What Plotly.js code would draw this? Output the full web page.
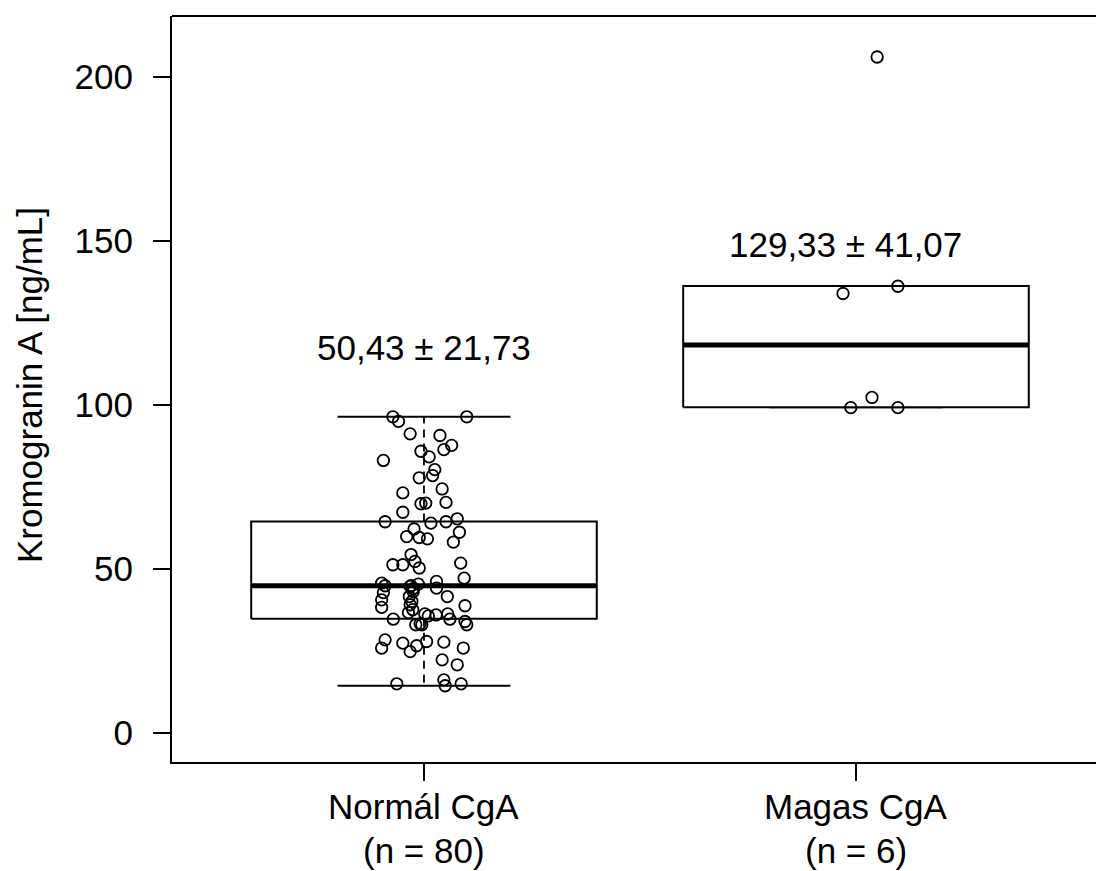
<!DOCTYPE html>
<html>
<head>
<meta charset="utf-8">
<script src="https://cdn.plot.ly/plotly-3.0.1.min.js"></script>
<style>html,body{margin:0;padding:0;background:#fff;}#chart{width:1096px;height:871px;}</style>
</head>
<body>
<div id="chart"></div>
<script>
// ---- data ----
const categories = ['Normál CgA', 'Magas CgA'];
const groupSizes = ['(n = 80)', '(n = 6)'];
const meanSdLabels = ['50,43 ± 21,73', '129,33 ± 41,07'];

// box statistics (Tukey five-number summary)
const q1 = [34.8, 99.3];
const medians = [44.9, 118.3];
const q3 = [64.5, 136.3];
const whiskerLow = [14.4, 99.3];
const whiskerHigh = [96.4, 136.3];

// individual observations, group 1 (Normál CgA)
const normalValues = [
  96.4, 95.0, 96.4, 91.2, 90.7, 87.7, 86.4, 85.9, 84.2, 83.1,
  80.3, 78.5, 77.8, 74.4, 73.2, 69.9, 70.1, 70.3, 67.3, 64.4,
  64.0, 64.4, 65.3, 61.2, 62.2, 59.9, 59.6, 59.2, 58.2, 54.4,
  51.3, 51.3, 52.3, 50.3, 51.8, 47.2, 46.2, 44.2, 45.7, 44.9,
  42.8, 40.6, 38.3, 45.4, 44.7, 43.1, 41.6, 40.1, 39.1, 37.6,
  36.7, 41.6, 38.8, 34.7, 36.3, 35.7, 36.0, 36.3, 34.7, 34.0,
  33.0, 33.0, 33.3, 33.0, 28.4, 25.9, 27.4, 24.8, 26.6, 27.9,
  27.7, 25.9, 22.3, 20.8, 15.0, 16.2, 14.4, 15.0, 44.0, 44.9
];
// horizontal jitter of each observation (category units)
const normalJitter = [
  -0.072, -0.059, 0.099, -0.032, 0.037, 0.064, 0.046, -0.007, 0.012, -0.094,
  0.025, 0.020, -0.011, 0.042, -0.049, -0.007, 0.004, 0.051, -0.049, -0.090,
  0.016, 0.051, 0.077, 0.082, -0.023, -0.040, -0.011, 0.008, 0.068, -0.030,
  -0.072, -0.049, -0.021, -0.011, 0.085, 0.093, 0.029, 0.029, -0.098, -0.090,
  -0.094, -0.098, -0.098, -0.013, -0.032, -0.025, -0.034, -0.028, -0.032, -0.026,
  -0.036, 0.054, 0.095, -0.071, 0.002, 0.010, 0.028, 0.055, 0.060, 0.095,
  0.099, -0.019, -0.009, -0.005, -0.090, -0.098, -0.049, -0.032, -0.017, 0.006,
  0.046, 0.091, 0.042, 0.077, -0.063, 0.046, 0.049, 0.086, -0.025, -0.030
];
// group 2 (Magas CgA)
const highValues = [134.0, 136.2, 99.2, 102.3, 99.2, 206.1];
const highJitter = [-0.030, 0.097, -0.012, 0.037, 0.097, 0.049];

// ---- style ----
const FONT = '"Liberation Sans", Arial, Helvetica, sans-serif';
const FS = 35;
const BOXHALF = 0.4, STAPLEHALF = 0.2;
const LW = 2;

const traces = [];
const groupPos = [1, 2];
const allValues = [normalValues, highValues];
const allJitter = [normalJitter, highJitter];

groupPos.forEach((c, i) => {
  // dashed whiskers
  traces.push({x: [c, c, null, c, c], y: [q3[i], whiskerHigh[i], null, q1[i], whiskerLow[i]],
    mode: 'lines', line: {color: '#000', width: 1.8, dash: '8px,6px'}, hoverinfo: 'skip', showlegend: false});
  // staples
  traces.push({x: [c - STAPLEHALF, c + STAPLEHALF, null, c - STAPLEHALF, c + STAPLEHALF],
    y: [whiskerHigh[i], whiskerHigh[i], null, whiskerLow[i], whiskerLow[i]],
    mode: 'lines', line: {color: '#000', width: LW}, hoverinfo: 'skip', showlegend: false});
  // box
  traces.push({x: [c - BOXHALF, c + BOXHALF, c + BOXHALF, c - BOXHALF, c - BOXHALF],
    y: [q1[i], q1[i], q3[i], q3[i], q1[i]], fill: 'toself', fillcolor: '#fff',
    mode: 'lines', line: {color: '#000', width: LW}, hoverinfo: 'skip', showlegend: false});
  // median
  traces.push({x: [c - BOXHALF, c + BOXHALF], y: [medians[i], medians[i]],
    mode: 'lines', line: {color: '#000', width: 5}, hoverinfo: 'skip', showlegend: false});
});

groupPos.forEach((c, i) => {
  traces.push({
    x: allJitter[i].map(j => c + j), y: allValues[i], mode: 'markers', showlegend: false,
    marker: {symbol: 'circle', size: 11.5, color: 'rgba(0,0,0,0)', line: {color: '#000', width: 1.8}},
    name: categories[i]
  });
});

const annotations = [];
groupPos.forEach((c, i) => {
  annotations.push({x: c, y: -0.0603, xref: 'x', yref: 'paper', text: categories[i], showarrow: false,
    xanchor: 'center', yanchor: 'middle', font: {family: FONT, size: FS, color: '#000'}});
  annotations.push({x: c, y: -0.118, xref: 'x', yref: 'paper', text: groupSizes[i], showarrow: false,
    xanchor: 'center', yanchor: 'middle', font: {family: FONT, size: FS, color: '#000'}});
});
annotations.push({x: 1, y: 117.4, xref: 'x', yref: 'y', text: meanSdLabels[0], showarrow: false,
  xanchor: 'center', yanchor: 'middle', font: {family: FONT, size: FS, color: '#000'}});
annotations.push({x: 1.975, y: 148.8, xref: 'x', yref: 'y', text: meanSdLabels[1], showarrow: false,
  xanchor: 'center', yanchor: 'middle', font: {family: FONT, size: FS, color: '#000'}});
annotations.push({x: -0.155, y: 0.505, xref: 'paper', yref: 'paper', text: 'Kromogranin A [ng/mL]',
  textangle: -90, showarrow: false, xanchor: 'center', yanchor: 'middle',
  font: {family: FONT, size: FS, color: '#000'}});

const layout = {
  width: 1096, height: 871,
  margin: {l: 172, r: 0, t: 16, b: 109, pad: 0},
  paper_bgcolor: '#fff', plot_bgcolor: '#fff',
  font: {family: FONT, size: FS, color: '#000'},
  showlegend: false,
  xaxis: {range: [0.4167, 2.5556], tickvals: groupPos, ticktext: ['', ''], showticklabels: false,
    ticks: 'outside', ticklen: 17, tickwidth: LW, tickcolor: '#000',
    showline: true, linecolor: '#000', linewidth: LW, showgrid: false, zeroline: false, fixedrange: true},
  yaxis: {range: [-8.84, 218.6], tickvals: [0, 50, 100, 150, 200], ticks: 'outside', ticklen: 17,
    tickwidth: LW, tickcolor: '#000', ticklabelstandoff: 13,
    tickfont: {family: FONT, size: FS, color: '#000'},
    showline: true, linecolor: '#000', linewidth: LW, showgrid: false, zeroline: false, fixedrange: true},
  shapes: [{type: 'line', xref: 'paper', yref: 'paper', x0: 0, x1: 1, y0: 1, y1: 1,
    line: {color: '#000', width: LW}}],
  annotations: annotations
};

Plotly.newPlot('chart', traces, layout, {displayModeBar: false, staticPlot: true});
</script>
</body>
</html>
